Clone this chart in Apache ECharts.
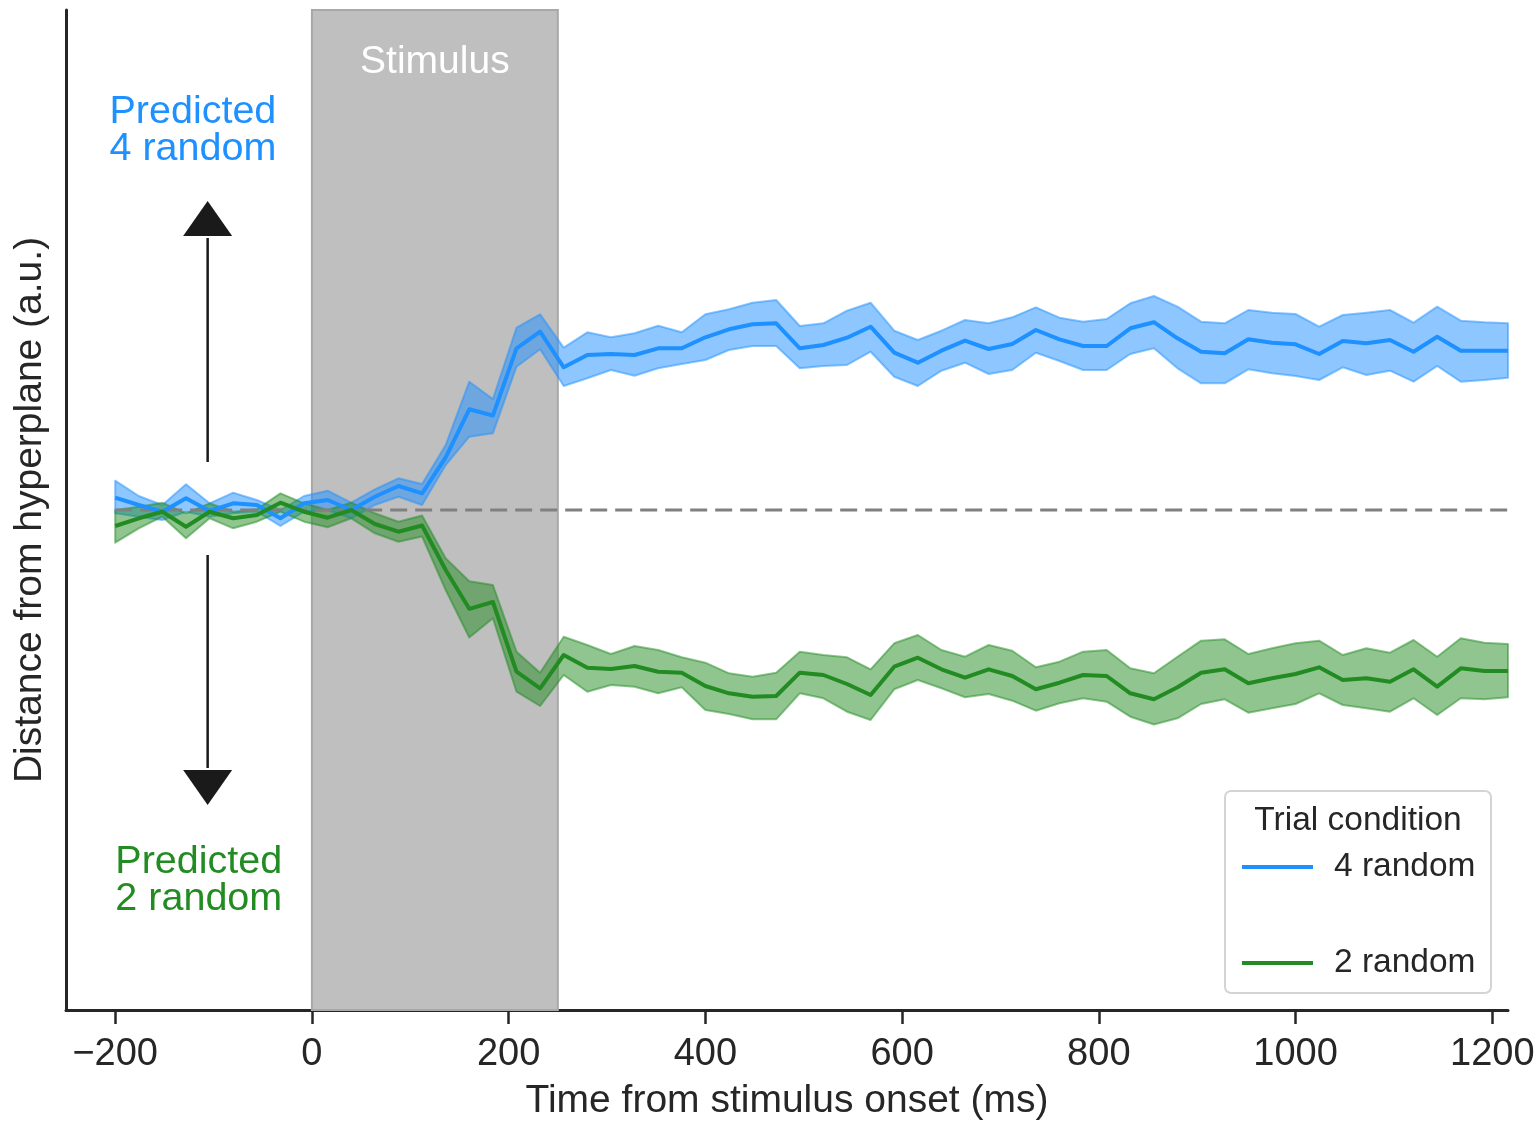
<!DOCTYPE html>
<html>
<head>
<meta charset="utf-8">
<script src="https://cdn.jsdelivr.net/npm/echarts@6/dist/echarts.min.js"></script>
<style>
  html, body { margin: 0; padding: 0; background: #ffffff; }
  #chart { width: 1540px; height: 1122px; }
</style>
</head>
<body>
<div id="chart"></div>
<script>
// ---------------- data ----------------
const times = [-200, -176, -152, -128, -104, -80, -56, -32, -8, 16, 40, 64, 88, 112, 136, 160, 184, 208, 232, 256,
  280, 304, 328, 352, 376, 400, 424, 448, 472, 496, 520, 544, 568, 592, 616, 640, 664, 688, 712, 736,
  760, 784, 808, 832, 856, 880, 904, 928, 952, 976, 1000, 1024, 1048, 1072, 1096, 1120, 1144, 1168, 1192, 1216];

const blueMean = [12.3, 5, -1.7, 11.7, -1, 6.7, 5, -8.3, 6.7, 10, 0, 13.3, 24, 16.7, 52.7, 100.7, 94.5, 161.7, 178.3, 142.7,
  155, 156, 155, 161.7, 161.7, 172.7, 180.7, 185.7, 186.7, 161.7, 165, 172.3, 183.3, 157.3, 147.3, 159.3, 169.3, 161, 166, 180,
  170.7, 164, 164, 181.7, 187.8, 171.7, 158.3, 156.7, 170.7, 167.3, 165.7, 156, 169, 166.7, 170, 158.3, 173.3, 159.3, 159.3, 159.3];
const blueHi = [29.3, 14, 5, 25.7, 6.7, 17.3, 10, 0, 14, 19.3, 7.3, 20.7, 31.7, 26, 65, 128.3, 111, 182.3, 195.7, 162.3,
  177.7, 172.7, 176.7, 184.3, 177.7, 195.7, 200.7, 207.3, 210, 184, 186.7, 199.3, 207.3, 179.3, 170, 179.3, 190, 186.7, 192.7, 202.7,
  192.3, 188.3, 191, 206.7, 214, 203.3, 188.3, 186.7, 200, 197.3, 196, 183.3, 195, 197.3, 200, 187.3, 203.3, 189.3, 187.7, 186.7];
const blueLo = [-3.3, -6.7, -10, -1.7, -6.7, -3.3, -1.7, -16, -1.7, 0, -8.3, 5, 13.3, 5, 45, 73.3, 76.7, 143.3, 160.7, 124,
  131.7, 140, 134.3, 141.7, 146, 150, 160, 164, 164, 141.7, 144, 145, 158.3, 133.3, 124, 139.3, 147.3, 136, 140, 157.3,
  149, 140, 140, 156, 161.7, 141.7, 126.7, 126.7, 140.7, 136.7, 134, 130, 142.7, 135, 139.3, 128.3, 144, 128.3, 130, 132.3];

const greenMean = [-16, -8.3, -1.7, -16.7, -1.7, -8.3, -5, 7.3, -1.7, -7.7, 0, -14, -21.7, -15.5, -60, -98.8, -92, -161.7, -178.3, -145,
  -157.7, -159, -156, -161.7, -162.7, -176, -183.3, -186.7, -186, -162.7, -165, -174, -185, -156.7, -147.7, -159.3, -167.7, -159.3, -166, -179.3,
  -172.7, -165, -166, -183.3, -189.3, -177.3, -162.7, -159.3, -173.3, -168.3, -164, -157.3, -170, -168.3, -171.7, -159.3, -176.7, -158.3, -161, -161];
const greenHi = [0, 3.3, 7.3, -3.3, 6.7, -1.7, 0.7, 16.7, 6.7, 0, 7.3, -3.3, -11.7, -5.5, -48.3, -71.2, -75, -141.7, -162.7, -126.7,
  -135, -144, -136, -140, -147.3, -152.7, -163.3, -166.7, -162.7, -141.7, -145, -147.3, -159.3, -133.3, -125, -140, -146.7, -135, -140.7, -157.3,
  -151.7, -141.7, -140, -158.3, -163.3, -146.7, -130.7, -129.3, -144, -138.3, -133.3, -130.7, -145, -138.3, -142.7, -130, -146.7, -128.3, -132.7, -134];
const greenLo = [-32.7, -18.3, -6.7, -28.3, -8.3, -18.3, -11.7, -1.7, -11.7, -17.3, -8.3, -23.3, -31.7, -26.5, -80, -127.5, -108.3, -181.7, -196, -165,
  -181.7, -175, -176.7, -183.3, -177.3, -200, -204, -209.3, -209.3, -183.3, -188.3, -201.7, -210, -179.3, -170, -178.3, -187.3, -184, -190.7, -200.7,
  -193.3, -188.3, -191.7, -206.7, -214.5, -208.3, -194, -189.3, -202.7, -198.3, -194, -183.3, -195, -198.3, -201.7, -188.3, -205, -188.3, -189.3, -187.3];

const xTicks = [-200, 0, 200, 400, 600, 800, 1000, 1200];
const seriesNames = ['4 random', '2 random'];
const stimulusWindow = [0, 250];
const legendTitle = 'Trial condition';
const xTitle = 'Time from stimulus onset (ms)';
const yTitle = 'Distance from hyperplane (a.u.)';

// annotation anchors (data units)
const arrowX = -106;
const upArrow = { from: 48, base: 274, tip: 309 };
const downArrow = { from: -45, base: -260, tip: -295 };
const topLabel = { x: -121, y: 379, text: 'Predicted\n4 random' };
const bottomLabel = { x: -115, y: -371, text: 'Predicted\n2 random' };
const stimLabel = { x: 125, y: 448, text: 'Stimulus' };

// ---------------- styles ----------------
const FONT = '"Liberation Sans", Arial, Helvetica, sans-serif';
const BLUE = '#1e90ff';
const GREEN = '#228b22';
const DARK = '#262626';

function zip(a, b) { return a.map((v, i) => [v, b[i]]); }

function bandSeries(lo, hi, fill, stroke) {
  return {
    type: 'custom',
    silent: true,
    z: 2,
    data: times.map((t, i) => [t, lo[i], hi[i]]),
    encode: { x: 0, y: [1, 2] },
    renderItem: function (params, api) {
      if (params.dataIndex !== 0) return null;
      const pts = [];
      for (let i = 0; i < times.length; i++) pts.push(api.coord([times[i], hi[i]]));
      for (let i = times.length - 1; i >= 0; i--) pts.push(api.coord([times[i], lo[i]]));
      return {
        type: 'polygon',
        shape: { points: pts },
        style: { fill: fill, stroke: stroke, lineWidth: 2, lineJoin: 'round' }
      };
    }
  };
}

const chart = echarts.init(document.getElementById('chart'), null, { renderer: 'canvas' });

const option = {
  backgroundColor: '#ffffff',
  animation: false,
  textStyle: { fontFamily: FONT },
  grid: { left: 66, right: 32, top: 10, bottom: 112, containLabel: false, outerBoundsMode: 'none' },
  xAxis: {
    type: 'value',
    min: -250,
    max: 1216,
    name: xTitle,
    nameLocation: 'middle',
    nameGap: 72,
    nameTextStyle: { fontSize: 39, color: DARK, fontFamily: FONT },
    axisLine: { show: true, onZero: false, lineStyle: { color: DARK, width: 3 } },
    axisTick: { show: true, customValues: xTicks, length: 14, lineStyle: { color: DARK, width: 2.5 } },
    axisLabel: {
      show: true, customValues: xTicks, margin: 26, fontSize: 38, color: DARK, fontFamily: FONT,
      formatter: v => (v < 0 ? '\u2212' + Math.abs(v) : String(v))
    },
    splitLine: { show: false }
  },
  yAxis: {
    type: 'value',
    min: -500,
    max: 500,
    name: yTitle,
    nameLocation: 'middle',
    nameGap: 16,
    nameTextStyle: { fontSize: 39, color: DARK, fontFamily: FONT },
    axisLine: { show: true, onZero: false, lineStyle: { color: DARK, width: 3 } },
    axisTick: { show: false },
    axisLabel: { show: false },
    splitLine: { show: false }
  },
  legend: {
    data: seriesNames,
    orient: 'vertical',
    left: 1237,
    top: 845,
    z: 10,
    itemWidth: 71,
    itemHeight: 14,
    itemGap: 62,
    icon: 'path://M0,5 L71,5 L71,9 L0,9 Z',
    textStyle: { fontSize: 33.5, color: DARK, fontFamily: FONT, padding: [0, 0, 0, 16] },
    selectedMode: false
  },
  graphic: [
    {
      type: 'rect',
      x: 1225, y: 791, z: 1,
      shape: { width: 266, height: 202, r: 6 },
      style: { fill: '#ffffff', stroke: '#d4d4d4', lineWidth: 2 }
    },
    {
      type: 'text',
      x: 1358, y: 821, z: 11,
      style: { text: legendTitle, font: '33.5px ' + FONT, fill: DARK, align: 'center', verticalAlign: 'middle', textAlign: 'center', textVerticalAlign: 'middle' }
    }
  ],
  series: [
    // stimulus window (bottom layer)
    {
      type: 'line',
      data: [],
      z: 0,
      silent: true,
      markArea: {
        silent: true,
        itemStyle: { color: '#bfbfbf', borderColor: '#a8a8a8', borderWidth: 2 },
        data: [[{ xAxis: stimulusWindow[0], yAxis: -500 }, { xAxis: stimulusWindow[1], yAxis: 500 }]]
      }
    },
    bandSeries(blueLo, blueHi, 'rgba(30,144,255,0.5)', 'rgba(30,144,255,0.5)'),
    bandSeries(greenLo, greenHi, 'rgba(34,139,34,0.5)', 'rgba(34,139,34,0.5)'),
    // zero reference
    {
      type: 'line',
      data: [[times[0], 0], [times[times.length - 1], 0]],
      symbol: 'none',
      silent: true,
      z: 3,
      lineStyle: { color: '#808080', width: 3, type: [17, 8] }
    },
    {
      name: seriesNames[0],
      type: 'line',
      data: zip(times, blueMean),
      symbol: 'none',
      z: 4,
      color: BLUE,
      lineStyle: { color: BLUE, width: 4, join: 'round' }
    },
    {
      name: seriesNames[1],
      type: 'line',
      data: zip(times, greenMean),
      symbol: 'none',
      z: 4,
      color: GREEN,
      lineStyle: { color: GREEN, width: 4, join: 'round' }
    },
    // annotations: arrows and labels
    {
      type: 'custom',
      silent: true,
      z: 5,
      data: [[arrowX, 0]],
      renderItem: function (params, api) {
        const HALF = 24.5;
        const c = '#1a1a1a';
        const u0 = api.coord([arrowX, upArrow.from]);
        const ub = api.coord([arrowX, upArrow.base]);
        const ut = api.coord([arrowX, upArrow.tip]);
        const d0 = api.coord([arrowX, downArrow.from]);
        const db = api.coord([arrowX, downArrow.base]);
        const dt = api.coord([arrowX, downArrow.tip]);
        const tl = api.coord([topLabel.x, topLabel.y]);
        const bl = api.coord([bottomLabel.x, bottomLabel.y]);
        const sl = api.coord([stimLabel.x, stimLabel.y]);
        return {
          type: 'group',
          children: [
            { type: 'line', shape: { x1: u0[0], y1: u0[1], x2: ub[0], y2: ub[1] + 2 }, style: { stroke: c, lineWidth: 2.5 } },
            { type: 'polygon', shape: { points: [[ub[0] - HALF, ub[1]], [ub[0] + HALF, ub[1]], [ut[0], ut[1]]] }, style: { fill: c } },
            { type: 'line', shape: { x1: d0[0], y1: d0[1], x2: db[0], y2: db[1] - 2 }, style: { stroke: c, lineWidth: 2.5 } },
            { type: 'polygon', shape: { points: [[db[0] - HALF, db[1]], [db[0] + HALF, db[1]], [dt[0], dt[1]]] }, style: { fill: c } },
            { type: 'text', x: tl[0], y: tl[1], style: { text: topLabel.text, font: '39.5px ' + FONT, fill: BLUE, align: 'center', verticalAlign: 'middle', lineHeight: 37 } },
            { type: 'text', x: bl[0], y: bl[1], style: { text: bottomLabel.text, font: '39.5px ' + FONT, fill: GREEN, align: 'center', verticalAlign: 'middle', lineHeight: 37 } },
            { type: 'text', x: sl[0], y: sl[1], style: { text: stimLabel.text, font: '39px ' + FONT, fill: '#ffffff', align: 'center', verticalAlign: 'middle' } }
          ]
        };
      }
    }
  ]
};

chart.setOption(option);
</script>
</body>
</html>
